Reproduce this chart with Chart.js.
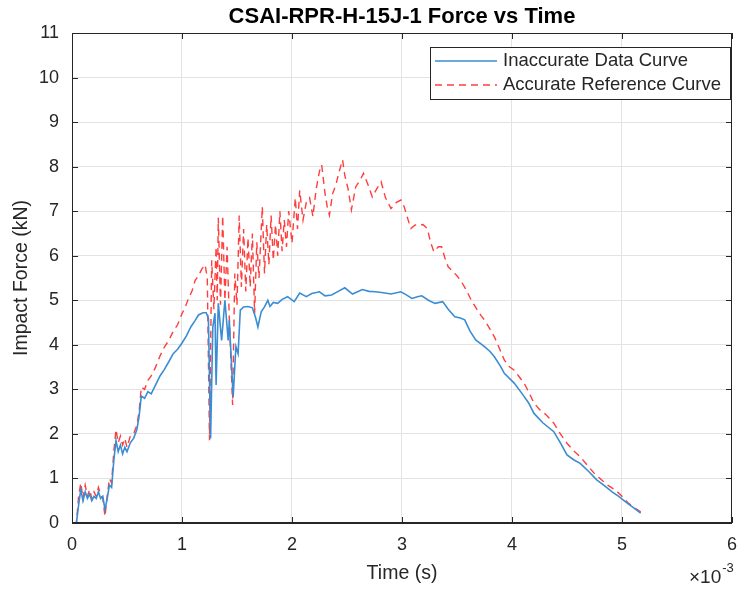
<!DOCTYPE html>
<html>
<head>
<meta charset="utf-8">
<script src="https://cdn.jsdelivr.net/npm/chart.js@4"></script>
<style>
  html, body { margin: 0; padding: 0; background: #fff; }
  #wrap { width: 748px; height: 590px; }
</style>
</head>
<body>
<div id="wrap"><canvas id="myChart"></canvas></div>
<script>
// time in ms (axis shows x10^-3 s), force in kN
const timeInaccurate = [0, 0.04, 0.06, 0.08, 0.10, 0.12, 0.14, 0.16, 0.18, 0.20, 0.22, 0.24, 0.26, 0.28, 0.30, 0.32, 0.34, 0.36, 0.38, 0.40,
  0.42, 0.44, 0.46, 0.48, 0.50, 0.53, 0.56, 0.59, 0.61, 0.63, 0.66, 0.69, 0.72, 0.76, 0.80, 0.84, 0.88, 0.92, 0.96, 1.00,
  1.04, 1.08, 1.12, 1.15, 1.19, 1.22, 1.24, 1.26, 1.28, 1.30, 1.31, 1.33, 1.36, 1.39, 1.42, 1.43, 1.465, 1.49, 1.51, 1.53,
  1.56, 1.60, 1.64, 1.67, 1.69, 1.72, 1.75, 1.78, 1.80, 1.83, 1.87, 1.91, 1.96, 2.02, 2.07, 2.13, 2.18, 2.25, 2.30, 2.36,
  2.42, 2.48, 2.55, 2.64, 2.70, 2.76, 2.83, 2.90, 2.99, 3.04, 3.09, 3.14, 3.18, 3.24, 3.30, 3.37, 3.42, 3.48, 3.53, 3.57,
  3.62, 3.67, 3.75, 3.80, 3.84, 3.90, 3.93, 4.02, 4.09, 4.15, 4.20, 4.28, 4.38, 4.44, 4.50, 4.56, 4.62, 4.70, 4.77, 4.84,
  4.91, 4.97, 5.03, 5.10, 5.17];
const forceInaccurate = [0, 0, 0.4, 0.75, 0.5, 0.7, 0.55, 0.65, 0.5, 0.6, 0.55, 0.7, 0.55, 0.6, 0.3, 0.55, 0.85, 0.8, 1.4, 1.85,
  1.6, 1.75, 1.55, 1.7, 1.6, 1.8, 1.9, 2.1, 2.4, 2.85, 2.8, 2.95, 2.9, 3.1, 3.3, 3.45, 3.62, 3.8, 3.9, 4.04,
  4.2, 4.4, 4.55, 4.67, 4.72, 4.72, 4.6, 1.9, 4.4, 4.71, 3.1, 4.93, 4.1, 5.0, 4.1, 4.55, 2.83, 3.96, 3.8, 4.78,
  4.85, 4.86, 4.83, 4.6, 4.4, 4.74, 4.85, 5.0, 4.86, 4.95, 4.93, 5.02, 5.08, 4.97, 5.16, 5.08, 5.15, 5.19, 5.1, 5.12,
  5.2, 5.28, 5.14, 5.24, 5.2, 5.19, 5.17, 5.14, 5.19, 5.12, 5.04, 5.08, 5.1, 5.0, 4.93, 4.97, 4.8, 4.63, 4.6, 4.56,
  4.3, 4.11, 3.96, 3.85, 3.73, 3.5, 3.36, 3.14, 2.91, 2.7, 2.46, 2.25, 2.05, 1.8, 1.53, 1.42, 1.34, 1.15, 0.97, 0.84,
  0.7, 0.6, 0.48, 0.35, 0.22];

const timeAccurate = [0, 0.04, 0.06, 0.08, 0.10, 0.12, 0.14, 0.16, 0.18, 0.20, 0.22, 0.24, 0.26, 0.28, 0.30, 0.32, 0.34, 0.36, 0.38, 0.40,
  0.42, 0.44, 0.46, 0.48, 0.50, 0.53, 0.56, 0.59, 0.61, 0.63, 0.66, 0.69, 0.72, 0.76, 0.80, 0.84, 0.88, 0.92, 0.96, 1.00,
  1.03, 1.06, 1.09, 1.12, 1.15, 1.18, 1.21, 1.23, 1.25, 1.27, 1.29, 1.31, 1.32, 1.33, 1.35, 1.37, 1.39, 1.41, 1.43, 1.46,
  1.48, 1.50, 1.52, 1.54, 1.56, 1.58, 1.60, 1.62, 1.64, 1.66, 1.68, 1.70, 1.73, 1.75, 1.77, 1.79, 1.81, 1.83, 1.85, 1.87,
  1.89, 1.91, 1.93, 1.95, 1.97, 2.00, 2.03, 2.05, 2.07, 2.10, 2.13, 2.16, 2.19, 2.22, 2.25, 2.27, 2.30, 2.32, 2.34, 2.37,
  2.40, 2.43, 2.46, 2.48, 2.51, 2.54, 2.58, 2.62, 2.65, 2.69, 2.73, 2.77, 2.81, 2.85, 2.90, 2.95, 2.99, 3.02, 3.05, 3.08,
  3.12, 3.15, 3.19, 3.23, 3.26, 3.29, 3.33, 3.36, 3.39, 3.42, 3.46, 3.50, 3.54, 3.58, 3.63, 3.68, 3.72, 3.75, 3.80, 3.84,
  3.88, 3.93, 3.97, 4.02, 4.06, 4.11, 4.15, 4.20, 4.25, 4.30, 4.34, 4.38, 4.44, 4.50, 4.56, 4.62, 4.70, 4.76, 4.80, 4.87,
  4.94, 5.00, 5.06, 5.12, 5.17];
const forceAccurate = [0, 0, 0.6, 0.9, 0.55, 0.85, 0.6, 0.75, 0.55, 0.7, 0.6, 0.8, 0.65, 0.55, 0.15, 0.6, 1.0, 0.9, 1.6, 2.1,
  1.8, 1.95, 1.75, 1.9, 1.7, 1.95, 2.0, 2.2, 2.5, 3.05, 3.0, 3.2, 3.3, 3.5, 3.75, 3.95, 4.1, 4.3, 4.45, 4.7,
  4.85, 5.05, 5.2, 5.45, 5.55, 5.7, 5.8, 5.5, 1.86, 5.9, 4.8, 6.2, 5.0, 6.85, 4.9, 6.9, 5.0, 6.2, 4.6, 2.65,
  5.6, 4.9, 6.9, 5.3, 6.6, 5.2, 6.4, 5.3, 6.5, 4.7, 6.3, 5.5, 7.1, 5.6, 6.7, 5.8, 6.9, 5.9, 6.7, 6.0,
  7.0, 6.1, 6.8, 6.2, 7.0, 6.28, 7.3, 6.6, 7.47, 6.8, 7.2, 7.3, 6.88, 7.5, 7.9, 8.04, 7.4, 7.1, 6.91, 7.4,
  7.6, 7.9, 8.15, 7.8, 7.5, 7.03, 7.55, 7.7, 7.85, 7.6, 7.32, 7.5, 7.66, 7.3, 7.06, 7.2, 7.25, 7.1, 6.85, 6.61,
  6.69, 6.69, 6.7, 6.61, 6.3, 6.09, 6.2, 6.2, 5.95, 5.75, 5.65, 5.55, 5.42, 5.25, 5.0, 4.8, 4.65, 4.56, 4.35, 4.18,
  3.95, 3.66, 3.52, 3.43, 3.3, 3.14, 2.95, 2.69, 2.55, 2.45, 2.35, 2.24, 2.0, 1.79, 1.62, 1.49, 1.25, 1.08, 1.0, 0.85,
  0.74, 0.6, 0.44, 0.33, 0.25];

const xTicks = [0, 1, 2, 3, 4, 5, 6];
const yTicks = [0, 1, 2, 3, 4, 5, 6, 7, 8, 9, 10, 11];

const seriesNames = ["Inaccurate Data Curve", "Accurate Reference Curve"];

const BLUE = "#3a8dd3";
const RED = "rgba(255, 40, 40, 0.9)";
const AXIS = "#262626";
const FONT = "'Liberation Sans', Arial, sans-serif";

function toPoints(xs, ys) {
  return xs.map((x, i) => ({ x: x, y: ys[i] }));
}

// title, box, inward ticks, legend and exponent, matlab style
const matlabDecor = {
  id: "matlabDecor",
  afterDraw(chart) {
    const c = chart.ctx;
    const a = chart.chartArea;
    const xs = chart.scales.x;
    const ys = chart.scales.y;
    c.save();

    // box
    c.strokeStyle = AXIS;
    c.lineWidth = 1;
    c.strokeRect(a.left + 0.5, a.top + 0.5, a.right - a.left - 1, a.bottom - a.top - 1);

    // inward ticks on all 4 sides
    c.beginPath();
    xTicks.forEach((t) => {
      const px = Math.round(xs.getPixelForValue(t)) + 0.5;
      c.moveTo(px, a.bottom); c.lineTo(px, a.bottom - 6);
      c.moveTo(px, a.top); c.lineTo(px, a.top + 6);
    });
    yTicks.forEach((t) => {
      const py = Math.round(ys.getPixelForValue(t)) + 0.5;
      c.moveTo(a.left, py); c.lineTo(a.left + 6, py);
      c.moveTo(a.right, py); c.lineTo(a.right - 6, py);
    });
    c.stroke();

    // title
    c.fillStyle = "#000";
    c.font = "bold 22px " + FONT;
    c.textAlign = "center";
    c.textBaseline = "middle";
    c.fillText("CSAI-RPR-H-15J-1 Force vs Time", (a.left + a.right) / 2, 17);

    // x10^-3
    c.fillStyle = AXIS;
    c.textAlign = "left";
    c.font = "19px " + FONT;
    c.fillText("\u00d710", 689, 578);
    const w = c.measureText("\u00d710").width;
    c.font = "13px " + FONT;
    c.fillText("-3", 689 + w + 1, 568);

    // legend
    const lx = 430, ly = 47, lw = 300, lh = 52;
    c.fillStyle = "#fff";
    c.fillRect(lx, ly, lw, lh);
    c.lineWidth = 1;
    c.strokeStyle = "#262626";
    c.strokeRect(lx + 0.5, ly + 0.5, lw, lh);

    c.lineWidth = 1.5;
    c.strokeStyle = BLUE;
    c.beginPath(); c.moveTo(435, 61); c.lineTo(497, 61); c.stroke();
    c.strokeStyle = RED;
    c.setLineDash([7, 5]);
    c.beginPath(); c.moveTo(435, 85); c.lineTo(497, 85); c.stroke();
    c.setLineDash([]);

    c.fillStyle = AXIS;
    c.font = "18.5px " + FONT;
    c.textBaseline = "middle";
    c.fillText(seriesNames[0], 503, 61);
    c.fillText(seriesNames[1], 503, 85);

    c.restore();
  }
};

const ctx = document.getElementById("myChart");
new Chart(ctx, {
  type: "line",
  data: {
    datasets: [
      {
        label: seriesNames[0],
        data: toPoints(timeInaccurate, forceInaccurate),
        borderColor: BLUE,
        borderWidth: 1.6,
        pointRadius: 0,
        tension: 0,
      },
      {
        label: seriesNames[1],
        data: toPoints(timeAccurate, forceAccurate),
        borderColor: RED,
        borderWidth: 1.4,
        borderDash: [7, 5],
        pointRadius: 0,
        tension: 0,
      },
    ],
  },
  options: {
    responsive: true,
    maintainAspectRatio: false,
    animation: false,
    layout: {
      padding: { left: 0, right: 7, top: 33, bottom: 0 },
    },
    plugins: {
      legend: { display: false },
      title: { display: false },
      tooltip: { enabled: false },
    },
    scales: {
      x: {
        type: "linear",
        min: 0,
        max: 6,
        afterFit(scale) { scale.height = 67; },
        afterBuildTicks(scale) { scale.ticks = xTicks.map((v) => ({ value: v })); },
        grid: { color: "#e3e3e3", drawTicks: false },
        border: { color: AXIS },
        ticks: {
          color: AXIS,
          padding: 11,
          font: { family: FONT, size: 18 },
        },
        title: {
          display: true,
          text: "Time (s)",
          color: AXIS,
          font: { family: FONT, size: 19.5 },
          padding: { top: 0, bottom: 5 },
        },
      },
      y: {
        min: 0,
        max: 11,
        afterFit(scale) { scale.width = 72; },
        afterBuildTicks(scale) { scale.ticks = yTicks.map((v) => ({ value: v })); },
        grid: { color: "#e3e3e3", drawTicks: false },
        border: { color: AXIS },
        ticks: {
          color: AXIS,
          padding: 13,
          font: { family: FONT, size: 18 },
        },
        title: {
          display: true,
          text: "Impact Force (kN)",
          color: AXIS,
          font: { family: FONT, size: 19.5 },
          padding: { top: 10, bottom: 0 },
        },
      },
    },
  },
  plugins: [matlabDecor],
});
</script>
</body>
</html>
